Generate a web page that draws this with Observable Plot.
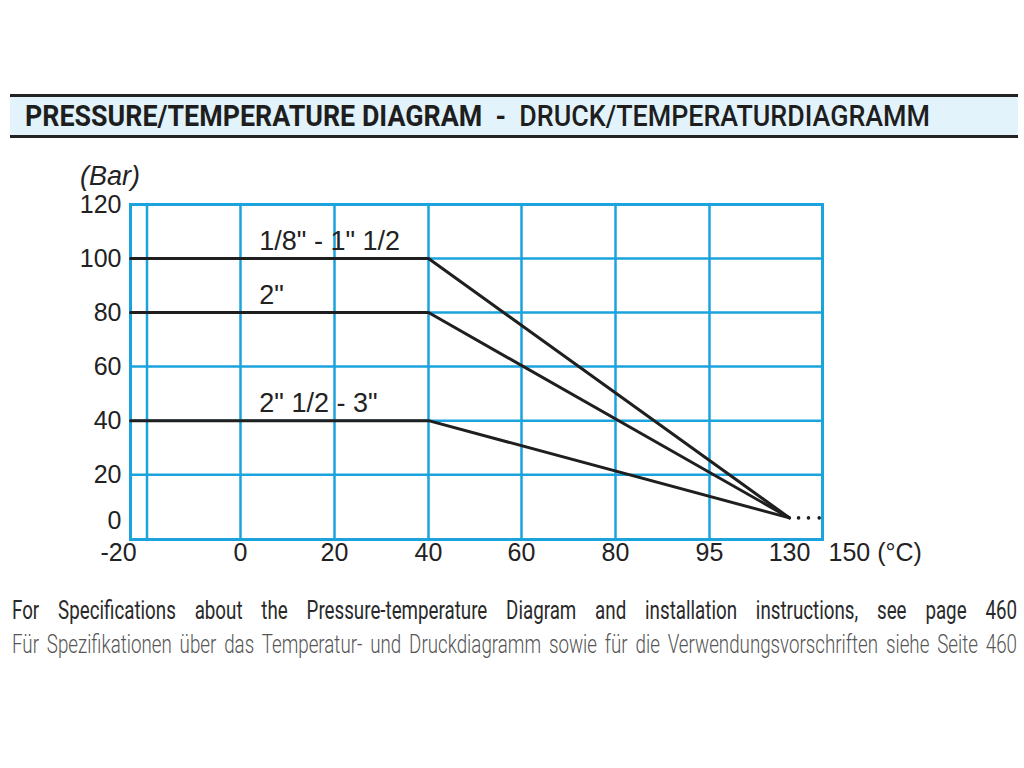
<!DOCTYPE html>
<html>
<head>
<meta charset="utf-8">
<script src="https://cdn.jsdelivr.net/npm/d3@7"></script>
<script src="https://cdn.jsdelivr.net/npm/@observablehq/plot@0.6"></script>
<style>
  html, body { margin: 0; padding: 0; background: #fff; }
  body { width: 1024px; height: 768px; position: relative; overflow: hidden; }
  #titlebar { position: absolute; left: 10px; top: 94px; width: 1008px; height: 38px;
    background: #e2f3fc; border-top: 3px solid #222; border-bottom: 3px solid #222; }
  #title { position: absolute; left: 15px; top: 0; line-height: 38px; white-space: nowrap;
    transform-origin: left center; font-family: Roboto, "DejaVu Sans", sans-serif; font-size: 29px; color: #1e1e1e; }
  #unit { position: absolute; left: 80px; top: 160px; line-height: 32px;
    font-family: "Liberation Sans", Arial, sans-serif; font-style: italic; font-size: 27px; color: #222; }
  #chart { position: absolute; left: 0; top: 160px; }
  .fline { position: absolute; left: 12px; transform-origin: left top; white-space: normal;
    font-family: Roboto, "Liberation Sans", sans-serif; font-size: 25px; line-height: 34px;
    text-align: justify; text-align-last: justify; }
  .fline span { white-space: nowrap; }
  #l1 { top: 594px; color: #2a2a2a; font-weight: 400; }
  #l2 { top: 628px; color: #555; font-weight: 300; }
</style>
</head>
<body>
<div id="titlebar"><div id="title"><b>PRESSURE/TEMPERATURE DIAGRAM</b>&nbsp; <b>-</b>&nbsp; <span style="font-weight:500">DRUCK/TEMPERATURDIAGRAMM</span></div></div>
<div id="unit">(Bar)</div>
<div id="chart"></div>
<div class="fline" id="l1">For Specifications about the Pressure-temperature Diagram and installation instructions, see page 460</div>
<div class="fline" id="l2">Für Spezifikationen über das Temperatur- und Druckdiagramm sowie für die Verwendungsvorschriften siehe Seite 460</div>
<script>
// ---- data ----
const seriesNames = ["1/8\" - 1\" 1/2", "2\"", "2\" 1/2 - 3\""];
const temperatures = [-20, 40, 130];
const pressure18to112 = [100, 100, 4];
const pressure2 = [80, 80, 4];
const pressure212to3 = [40, 40, 4];
const xTickValues = [-20, 0, 20, 40, 60, 80, 95, 130, 150];
const xAxisTicks = [0, 20, 40, 60, 80, 95, 130];
const yTickValues = [20, 40, 60, 80, 100, 120];
const gridX = [-17, 0, 20, 40, 60, 80, 95];
const gridY = [20, 40, 60, 80, 100];
const ellipsisX = [135.5, 141.5, 148];
const ellipsisP = 4;
const labelX = 4;

// ---- build table ----
const seriesValues = [pressure18to112, pressure2, pressure212to3];
const rows = [];
seriesNames.forEach((name, i) => {
  temperatures.forEach((t, j) => rows.push({series: name, t, p: seriesValues[i][j]}));
});
const labels = seriesNames.map((name, i) => ({name, p: seriesValues[i][0]}));

const blue = "#1ba3dd";
const ink = "#1f1f1f";
// non-uniform temperature axis of the original diagram (piecewise scale)
const xRange = [130, 240, 334, 428, 521, 615, 709, 789, 822];

const chart = Plot.plot({
  width: 1024,
  height: 420,
  marginTop: 44,
  marginBottom: 41,
  marginLeft: 130,
  marginRight: 202,
  x: {type: "linear", domain: xTickValues, range: xRange},
  y: {domain: [-4, 120]},
  style: {fontFamily: "'Liberation Sans', Arial, sans-serif", fontSize: "25px", color: "#222", background: "transparent", overflow: "visible"},
  marks: [
    Plot.ruleX(gridX, {x: d => d, stroke: blue, strokeWidth: 2.5}),
    Plot.ruleY(gridY, {y: d => d, stroke: blue, strokeWidth: 2.5}),
    Plot.frame({stroke: blue, strokeWidth: 3}),
    Plot.line(rows, {x: "t", y: "p", z: "series", stroke: ink, strokeWidth: 3, strokeLinejoin: "miter"}),
    Plot.dot(ellipsisX, {x: d => d, y: () => ellipsisP, r: 1.8, fill: ink, stroke: null}),
    Plot.text(labels, {x: () => labelX, y: "p", text: "name", textAnchor: "start", dy: -17, fontSize: 27, fill: "#222"}),
    Plot.axisX(xAxisTicks, {tickSize: 0, tickPadding: 4, fontSize: 25, label: null}),
    Plot.text([xTickValues[0]], {x: d => d, frameAnchor: "bottom", lineAnchor: "top", dy: 4, dx: -12, text: d => String(d), fontSize: 25}),
    Plot.text([xTickValues[xTickValues.length - 1]], {x: d => d, frameAnchor: "bottom", lineAnchor: "top", dy: 4, dx: 6, textAnchor: "start", text: d => d + " (°C)", fontSize: 25}),
    Plot.axisY(yTickValues, {tickSize: 0, tickPadding: 9, fontSize: 25, label: null}),
    Plot.text([0], {y: d => d, frameAnchor: "left", dx: -9, dy: -8, textAnchor: "end", text: d => String(d), fontSize: 25})
  ]
});
document.getElementById("chart").appendChild(chart);

// fit title to the width it occupies in the original
const title = document.getElementById("title");
const w = title.getBoundingClientRect().width;
title.style.transform = `scaleX(${905 / w})`;

// condensed, justified footer lines spanning the page width
const target = 1005;
for (const id of ["l1", "l2"]) {
  const el = document.getElementById(id);
  const probe = document.createElement("span");
  probe.textContent = el.textContent;
  probe.style.cssText = "position:absolute;visibility:hidden;white-space:nowrap;font:inherit;";
  el.appendChild(probe);
  const natural = probe.getBoundingClientRect().width;
  el.removeChild(probe);
  const s = Math.min(0.75, target / natural);
  el.style.width = (target / s) + "px";
  el.style.transform = `scaleX(${s})`;
}
</script>
</body>
</html>
